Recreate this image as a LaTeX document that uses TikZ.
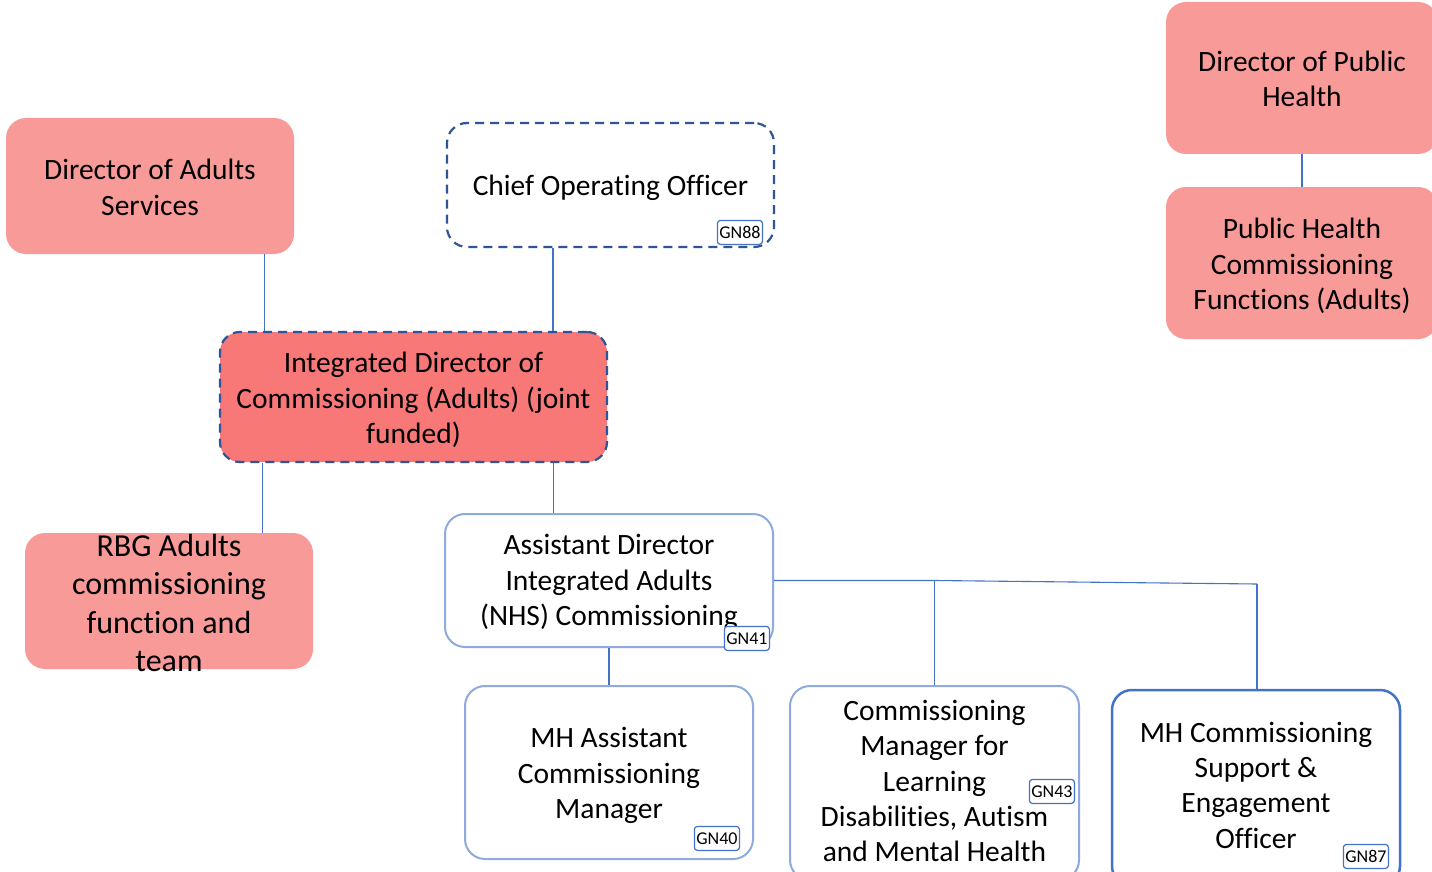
\documentclass[tikz,border=0pt]{standalone}
\usepackage{fontspec}
\setmainfont{Carlito}[Ligatures={NoCommon}]
\definecolor{salmon}{RGB}{248,155,152}
\definecolor{redfill}{RGB}{247,120,118}
\definecolor{dkblue}{RGB}{47,85,151}
\definecolor{ltblue}{RGB}{143,170,220}
\definecolor{midblue}{RGB}{68,114,196}
\begin{document}
\begin{tikzpicture}[x=1pt,y=-1pt,
  base/.style={rounded corners=20pt, inner sep=0pt},
  pinkbox/.style={base, fill=salmon, draw=none},
  dashbox/.style={base, draw=dkblue, line width=2.2pt, dash pattern=on 9pt off 6pt},
  whitebox/.style={base, fill=white, draw=ltblue, line width=2pt},
  freetext/.style={align=center, inner sep=0pt, font=\fontsize{29.5}{35.3}\selectfont},
  tag/.style={draw=midblue, line width=1.2pt, rounded corners=3pt, fill=white, inner sep=0.5pt,
    minimum width=45pt, minimum height=24pt, font=\fontsize{18}{20}\selectfont},
  conn/.style={draw=midblue, line width=1.1pt}]
\useasboundingbox (0,0) rectangle (1432,872);
\fill[white] (0,0) rectangle (1432,872);

% Director of Adults Services
\node[pinkbox, minimum width=288pt, minimum height=136pt] (dad) at (150,186) {};
\node[freetext] (dadtxt) at (150,187.5) {Director of Adults\\Services};

% Chief Operating Officer
\node[dashbox, fill=white, minimum width=327pt, minimum height=124pt] (coo) at (610.5,185) {};
\node[freetext] (cootxt) at (610.5,188) {Chief Operating Officer};
\node[tag, anchor=south east] (gn88) at (763,245) {GN88};

% Integrated Director
\node[dashbox, fill=redfill, minimum width=387pt, minimum height=130pt] (idc) at (413.5,397) {};
\node[freetext] (idctxt) at (413.5,400) {Integrated Director of\\Commissioning (Adults) (joint\\funded)};

% RBG
\node[pinkbox, minimum width=288pt, minimum height=136pt] (rbg) at (169,601) {};
\node[freetext, font=\fontsize{32}{38.3}\selectfont] (rbgtxt) at (169,603) {RBG Adults\\commissioning\\function and\\team};

% Assistant Director
\node[whitebox, minimum width=328pt, minimum height=133pt] (ad) at (609,580.5) {};
\node[freetext] (adtxt) at (609,582.5) {Assistant Director\\Integrated Adults\\(NHS) Commissioning};
\node[tag, anchor=south east] (gn41) at (770,651) {GN41};

% MH Assistant Commissioning Manager
\node[whitebox, minimum width=288pt, minimum height=173pt] (mha) at (609,772.5) {};
\node[freetext] (mhatxt) at (609,775.5) {MH Assistant\\Commissioning\\Manager};
\node[tag, anchor=south east] (gn40) at (740,851) {GN40};

% Commissioning Manager LD
\node[whitebox, minimum width=289pt, minimum height=194pt] (cm) at (934.5,783) {};
\node[freetext] (cmtxt) at (934.5,781) {Commissioning\\Manager for\\Learning\\Disabilities, Autism\\and Mental Health};
\node[tag, anchor=south east] (gn43) at (1075,804) {GN43};

% MH Commissioning Support
\node[base, fill=white, draw=midblue, line width=2.5pt, minimum width=288pt, minimum height=196pt] (mhs) at (1256,788) {};
\node[freetext] (mhstxt) at (1256,785) {MH Commissioning\\Support \&\\Engagement\\Officer};
\node[tag, anchor=south east] (gn87) at (1389,869) {GN87};

% Public Health
\node[pinkbox, minimum width=272pt, minimum height=152pt] (dph) at (1302,78) {};
\node[freetext] (dphtxt) at (1302,79) {Director of Public\\Health};
\node[pinkbox, minimum width=272pt, minimum height=152pt] (phc) at (1302,263) {};
\node[freetext] (phctxt) at (1302,266) {Public Health\\Commissioning\\Functions (Adults)};

% connectors
\draw[conn] ([xshift=-30pt]dad.south east) -- ([xshift=-30pt]dad.south east |- idc.north);
\draw[conn] ([xshift=-57.5pt]coo.south) -- ([xshift=-57.5pt]coo.south |- idc.north);
\draw[conn] ([xshift=44pt]idc.south west) -- ([xshift=44pt]idc.south west |- rbg.north);
\draw[conn] ([xshift=-55pt]idc.south east) -- ([xshift=-55pt]idc.south east |- ad.north);
\draw[conn] (ad.south) -- (mha.north);
\coordinate (j1) at (cm.north |- ad.east);
\coordinate (j2) at (1257,584);
\draw[conn] (ad.east) -- (j1) -- (j2);
\draw[conn] (j1) -- (cm.north);
\draw[conn] (j2) -- (j2 |- mhs.north);
\draw[conn] (dph.south) -- (phc.north);
\end{tikzpicture}
\end{document}
